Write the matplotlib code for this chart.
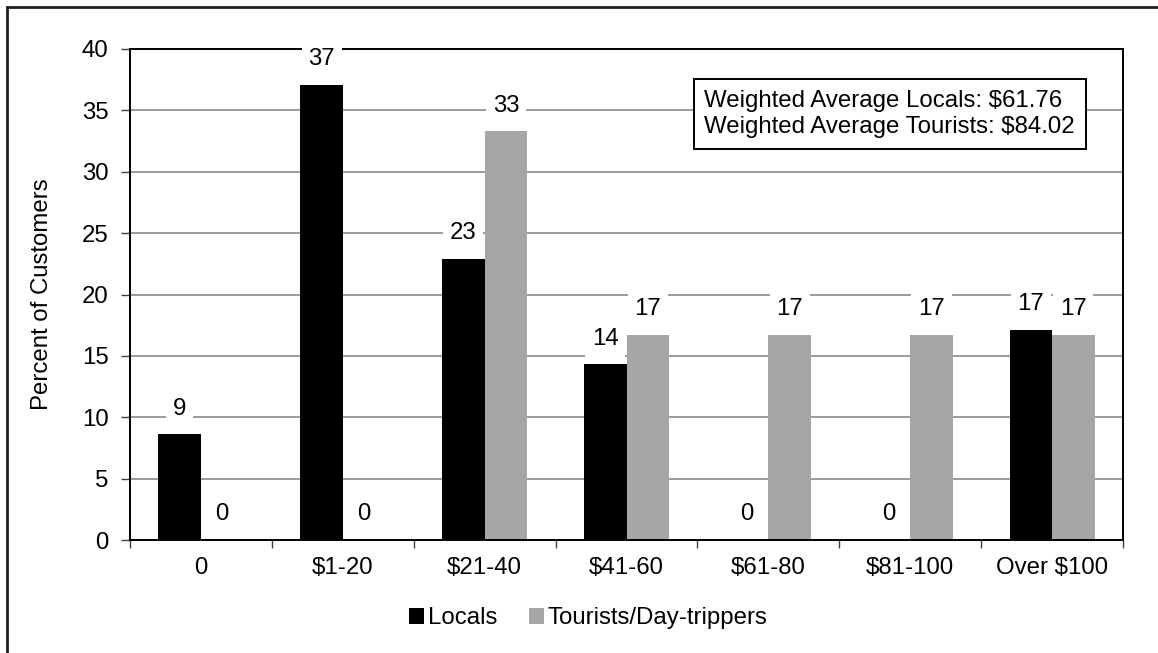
"""Spending per visit: locals vs tourists, Excel-style grouped bars."""

import matplotlib
matplotlib.use("Agg")
import matplotlib.pyplot as plt
import numpy as np
from matplotlib.patches import Patch, Rectangle

# data
categories = ["0", "$1-20", "$21-40", "$41-60", "$61-80", "$81-100", "Over $100"]
locals_pct = [8.6, 37.1, 22.9, 14.3, 0.0, 0.0, 17.1]
tourists_pct = [0.0, 0.0, 33.3, 16.7, 16.7, 16.7, 16.7]
series_names = ["Locals", "Tourists/Day-trippers"]
note_lines = ["Weighted Average Locals: $61.76", "Weighted Average Tourists: $84.02"]

BLACK = "#000000"
GRAY = "#A6A6A6"
GRID = "#808080"
FS = 17.3

plt.rcParams.update({
    "font.family": ["Liberation Sans", "DejaVu Sans"],
    "font.size": FS,
})

fig = plt.figure(figsize=(11.58, 6.53), dpi=100)
ax = fig.add_axes([0.1123, 0.1730, 0.9698 - 0.1123, 0.925 - 0.1730])

x = np.arange(len(categories))
width = 0.3
bars_l = ax.bar(x - width / 2, locals_pct, width, color=BLACK, zorder=3, label=series_names[0])
bars_t = ax.bar(x + width / 2, tourists_pct, width, color=GRAY, zorder=3, label=series_names[1])

for bars, vals in ((bars_l, locals_pct), (bars_t, tourists_pct)):
    for bar, v in zip(bars, vals):
        ax.annotate(f"{v:.0f}", xy=(bar.get_x() + bar.get_width() / 2, v),
                    xytext=(0, 18.5), textcoords="offset points",
                    ha="center", va="center", fontsize=FS, zorder=5,
                    bbox=dict(boxstyle="square,pad=0.28", fc="white", ec="none"))

ax.set_xlim(-0.5, len(categories) - 0.5)
ax.set_ylim(0, 40)
ax.set_yticks(np.arange(0, 41, 5))
ax.set_xticks(x)
ax.set_xticklabels(categories)
ax.set_xticks(np.arange(-0.5, len(categories), 1.0), minor=True)
ax.tick_params(axis="x", which="major", length=0, pad=12)
ax.tick_params(axis="x", which="minor", length=5.5, width=1.0, color="#404040")
ax.tick_params(axis="y", length=6.5, width=1.0, color="#404040", pad=9)

ax.yaxis.grid(True, color=GRID, linewidth=1.1)
ax.set_axisbelow(True)
for s in ax.spines.values():
    s.set_color(BLACK)
    s.set_linewidth(1.4)
    s.set_zorder(4)

fig.text(42 / 1158, 0.549, "Percent of Customers", rotation=90,
         ha="center", va="center", fontsize=FS)

ax.text(0.765, 0.8676, "\n".join(note_lines), transform=ax.transAxes,
        ha="center", va="center", multialignment="left", fontsize=FS,
        linespacing=1.22, zorder=6,
        bbox=dict(boxstyle="square,pad=0.45", fc="white", ec=BLACK, lw=1.4))

handles = [Patch(facecolor=BLACK, label=series_names[0]),
           Patch(facecolor=GRAY, label=series_names[1])]
fig.legend(handles=handles, loc="center", bbox_to_anchor=(0.508, 0.0536), ncol=2,
           frameon=False, fontsize=FS, handlelength=0.65, handleheight=0.65,
           handletextpad=0.15, columnspacing=1.3)

# outer chart border (runs off the right and bottom edges)
fig.patches.append(Rectangle((7 / 1158, -0.1), 1.2, 1.1 - 7 / 653,
                             transform=fig.transFigure, fill=False,
                             ec="#202020", lw=2.0, zorder=0))

fig.savefig("out.png", dpi=100)
plt.close(fig)
